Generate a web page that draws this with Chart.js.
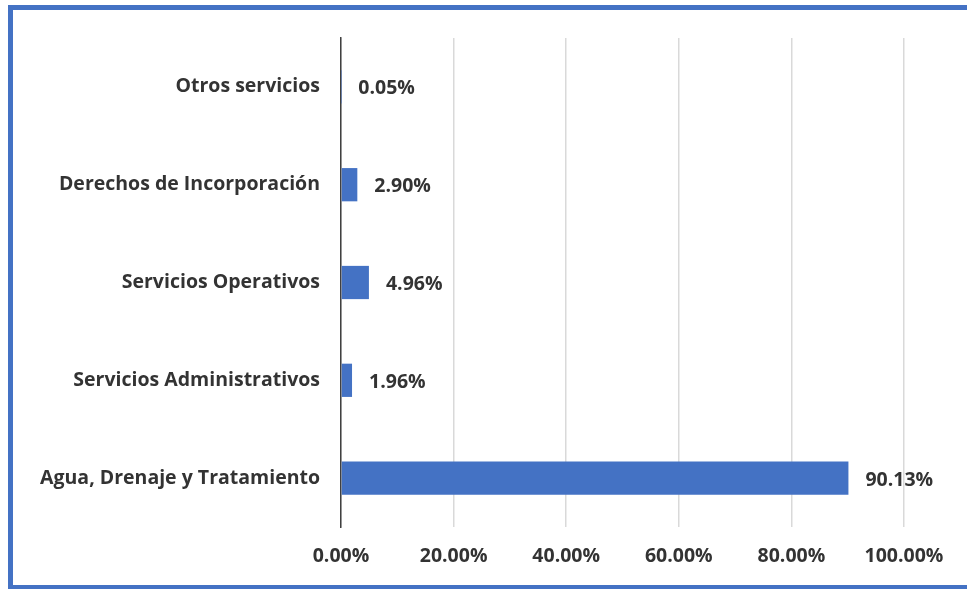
<!DOCTYPE html>
<html>
<head>
<meta charset="utf-8">
<script src="https://cdn.jsdelivr.net/npm/chart.js@4/dist/chart.umd.min.js"></script>
<style>
  html, body { margin: 0; padding: 0; background: #fff; width: 967px; height: 589px; overflow: hidden; }
  #frame { position: absolute; left: 8px; top: 5px; width: 980px; height: 575px; border: 5px solid #4472C4; border-right: none; box-sizing: content-box; }
  #wrap { position: absolute; left: 0; top: 0; width: 967px; height: 589px; }
</style>
</head>
<body>
<div id="frame"></div>
<div id="wrap"><canvas id="c" width="967" height="589"></canvas></div>
<script>
const categories = ["Otros servicios", "Derechos de Incorporación", "Servicios Operativos", "Servicios Administrativos", "Agua, Drenaje y Tratamiento"];
const shares = [0.05, 2.90, 4.96, 1.96, 90.13];
const xTicks = [0, 20, 40, 60, 80, 100];

const FONT = "'Open Sans', Lato, sans-serif";
const TEXT = "#333333";
const SIZE = 19.5;

const valueLabels = {
  id: "valueLabels",
  afterDatasetsDraw(chart) {
    const ctx = chart.ctx;
    const meta = chart.getDatasetMeta(0);
    ctx.save();
    ctx.font = "bold " + SIZE + "px " + FONT;
    ctx.fillStyle = TEXT;
    ctx.textAlign = "left";
    ctx.textBaseline = "middle";
    meta.data.forEach((bar, i) => {
      ctx.fillText(shares[i].toFixed(2) + "%", bar.x + 17, bar.y + 2);
    });
    ctx.restore();
  }
};

new Chart(document.getElementById("c"), {
  type: "bar",
  data: {
    labels: categories,
    datasets: [{
      data: shares,
      backgroundColor: "#4472C4",
      borderWidth: 0,
      categoryPercentage: 1,
      barPercentage: 0.34
    }]
  },
  options: {
    indexAxis: "y",
    responsive: false,
    animation: false,
    layout: { padding: { top: 38, right: 63, bottom: 0, left: 0 } },
    plugins: { legend: { display: false }, tooltip: { enabled: false } },
    scales: {
      x: {
        min: 0, max: 100,
        afterBuildTicks(scale) { scale.ticks = xTicks.map(v => ({ value: v })); },
        afterFit(scale) { scale.height = 62; },
        grid: { color: "#d9d9d9", lineWidth: 1.5, drawTicks: false },
        border: { display: false },
        ticks: {
          padding: 18,
          color: TEXT,
          font: { family: FONT, size: SIZE, weight: "bold" },
          callback: v => v.toFixed(2) + "%"
        }
      },
      y: {
        afterFit(scale) { scale.width = 341; },
        grid: { display: false, drawTicks: false },
        border: { display: true, color: "#404040", width: 1.5 },
        ticks: {
          padding: 21,
          color: TEXT,
          font: { family: FONT, size: SIZE, weight: "bold" }
        }
      }
    }
  },
  plugins: [valueLabels]
});
</script>
</body>
</html>
